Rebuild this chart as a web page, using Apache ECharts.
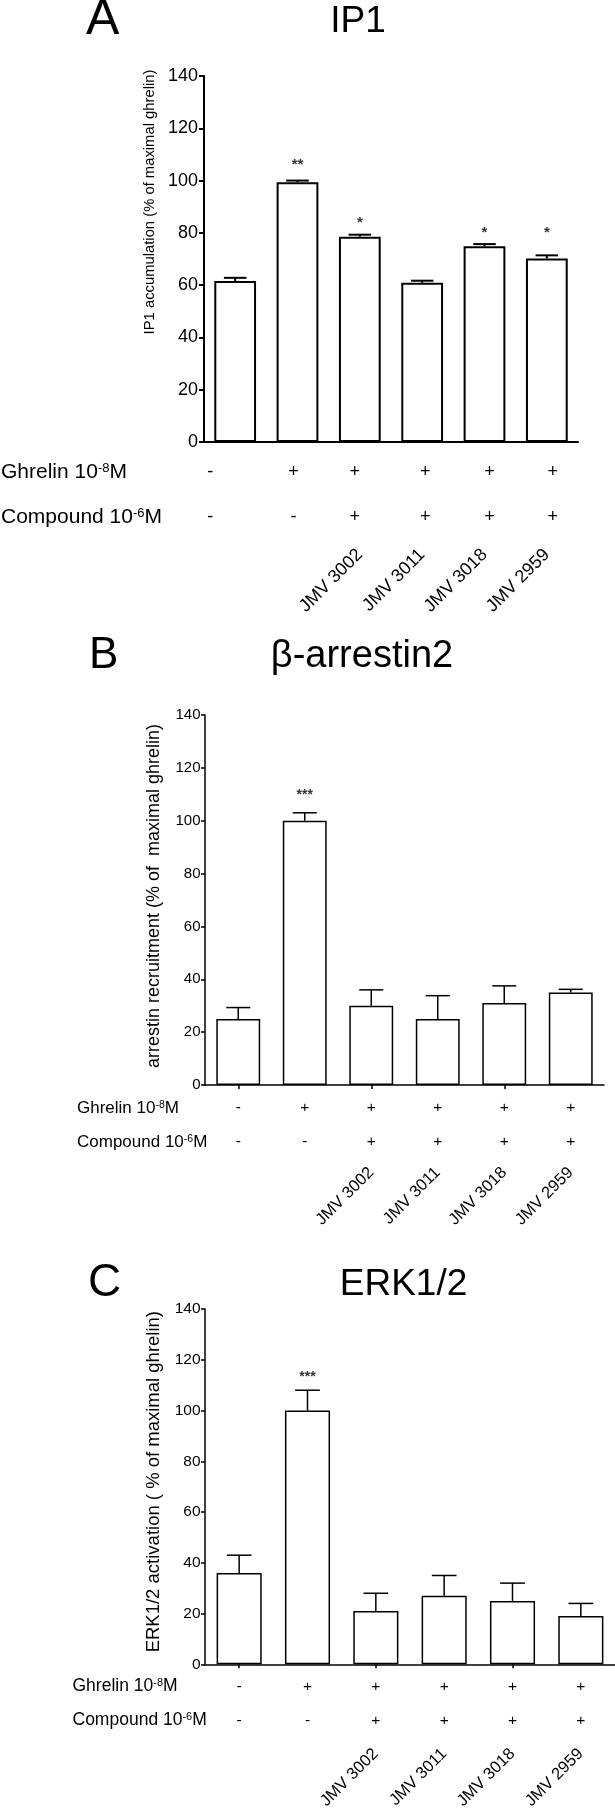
<!DOCTYPE html>
<html><head><meta charset="utf-8">
<script src="https://cdn.jsdelivr.net/npm/echarts@6/dist/echarts.min.js"></script>
<style>html,body{margin:0;padding:0;background:#fff}#c{width:615px;height:1812px}</style>
</head><body><div id="c"></div>
<script>
// ---------- data ----------
const categories = ['Control', 'Ghrelin', 'JMV 3002', 'JMV 3011', 'JMV 3018', 'JMV 2959'];
const ghrelinSigns = ['-', '+', '+', '+', '+', '+'];
const compoundSigns = ['-', '-', '+', '+', '+', '+'];
const compoundLabels = ['', '', 'JMV 3002', 'JMV 3011', 'JMV 3018', 'JMV 2959'];
const yMin = 0, yMax = 140, yInterval = 20;

const ip1Mean = [61.6, 99.4, 78.5, 60.9, 74.9, 70.2];
const ip1Sem = [1.2, 0.6, 0.8, 0.8, 0.8, 1.2];
const ip1Stars = ['', '**', '*', '', '*', '*'];
const ip1StarLevel = [null, 107, 85, null, 81, 81];

const arrMean = [25, 100, 30, 25, 31, 35];
const arrSem = [4.3, 3, 6, 8.8, 6.5, 1.2];
const arrStars = ['', '***', '', '', '', ''];
const arrStarLevel = [null, 111, null, null, null, null];

const erkMean = [36, 100, 21, 27, 25, 19];
const erkSem = [7, 8, 7, 8, 7, 5];
const erkStars = ['', '***', '', '', '', ''];
const erkStarLevel = [null, 114.4, null, null, null, null];

// ---------- layout / style ----------
const F = 'Liberation Sans, Arial, Helvetica, sans-serif';
const panels = [
  { title: 'IP1', letter: 'A', yName: 'IP1 accumulation (% of maximal ghrelin)',
    mean: ip1Mean, sem: ip1Sem, stars: ip1Stars, starLevel: ip1StarLevel,
    grid: { left: 203, top: 76, width: 375, height: 366 },
    lw: 2, barWidth: '67%', xTicks: false, tickLen: 5, axisFont: 18, labelMargin: 6,
    yNameFont: 14.8, yNameGap: 45, yNameShift: 57,
    rows: [30, 75, 110], signFont: 18, rowFont: 21, supFont: 13, rowNameGap: 203,
    jmvFont: 18, signShift: [-25, -4, -5, 3, 5, 6], starFont: 15 },
  { title: '\u03b2-arrestin2', letter: 'B', yName: 'arrestin recruitment (% of  maximal ghrelin)',
    mean: arrMean, sem: arrSem, stars: arrStars, starLevel: arrStarLevel,
    grid: { left: 205, top: 715, width: 399, height: 370 },
    lw: 1.5, barWidth: '66%', xTicks: true, tickLen: 4, axisFont: 15, labelMargin: 4.5,
    yNameFont: 18, yNameGap: 51, yNameShift: 4,
    rows: [23, 57, 85], signFont: 15.5, rowFont: 17, supFont: 10.5, rowNameGap: 128,
    jmvFont: 16.5, signShift: [0, 0, 0, 0, 0, 0], starFont: 14 },
  { title: 'ERK1/2', letter: 'C', yName: 'ERK1/2 activation ( % of maximal ghrelin)',
    mean: erkMean, sem: erkSem, stars: erkStars, starLevel: erkStarLevel,
    grid: { left: 205, top: 1309, width: 410, height: 362 },
    lw: 1.5, barWidth: '66%', xTicks: true, tickLen: 4, axisFont: 15.5, labelMargin: 4.5,
    yNameFont: 18.5, yNameGap: 47, yNameShift: 5,
    rows: [22, 56, 87], signFont: 15.5, rowFont: 17.5, supFont: 11, rowNameGap: 132.5,
    jmvFont: 16.5, signShift: [0, 0, 0, 0, 0, 0], starFont: 14 }
];
const titleLayout = [
  { lx: 86, ly: 20, ls: 50, tx: 358, ty: 22, ts: 37 },
  { lx: 89, ly: 656, ls: 44, tx: 362, ty: 657, ts: 38 },
  { lx: 88, ly: 1283, ls: 46, tx: 403.5, ty: 1285, ts: 37 }
];

const option = { animation: false, textStyle: { fontFamily: F }, grid: [], xAxis: [], yAxis: [], series: [], graphic: [] };

panels.forEach((P, k) => {
  option.grid.push(Object.assign({ containLabel: false }, P.grid));
  const signRich = {};
  P.signShift.forEach((d, i) => {
    signRich['p' + i] = { fontSize: P.signFont, color: '#000', fontFamily: F,
      padding: d < 0 ? [0, -2 * d, 0, 0] : [0, 0, 0, 2 * d] };
  });
  const rowNameRich = {
    n: { fontSize: P.rowFont, color: '#000', fontFamily: F, lineHeight: P.rowFont },
    s: { fontSize: P.supFont, color: '#000', fontFamily: F, verticalAlign: 'top', lineHeight: P.supFont * 0.5 }
  };
  const hidden = { axisLine: { show: false }, axisTick: { show: false }, splitLine: { show: false } };
  // main axis
  option.xAxis.push({ type: 'category', gridIndex: k, data: categories, position: 'bottom',
    axisLine: { show: true, lineStyle: { color: '#000', width: P.lw } },
    axisTick: { show: P.xTicks, alignWithLabel: true, length: P.tickLen, lineStyle: { color: '#000', width: P.lw } },
    axisLabel: { show: false }, splitLine: { show: false } });
  // ghrelin row
  option.xAxis.push(Object.assign({ type: 'category', gridIndex: k, data: categories, position: 'bottom',
    offset: P.rows[0],
    axisLabel: { interval: 0, margin: 0, verticalAlign: 'middle', color: '#000', rich: signRich,
      formatter: (v, i) => '{p' + i + '|' + ghrelinSigns[i] + '}' },
    name: '{n|Ghrelin 10}{s|-8}{n|M}', nameLocation: 'start', nameGap: P.rowNameGap,
    nameTextStyle: { align: 'left', verticalAlign: 'middle', rich: rowNameRich } }, hidden));
  // compound row
  option.xAxis.push(Object.assign({ type: 'category', gridIndex: k, data: categories, position: 'bottom',
    offset: P.rows[1],
    axisLabel: { interval: 0, margin: 0, verticalAlign: 'middle', color: '#000', rich: signRich,
      formatter: (v, i) => '{p' + i + '|' + compoundSigns[i] + '}' },
    name: '{n|Compound 10}{s|-6}{n|M}', nameLocation: 'start', nameGap: P.rowNameGap,
    nameTextStyle: { align: 'left', verticalAlign: 'middle', rich: rowNameRich } }, hidden));
  // compound names row
  option.xAxis.push(Object.assign({ type: 'category', gridIndex: k, data: categories, position: 'bottom',
    offset: P.rows[2],
    axisLabel: { interval: 0, margin: 0, rotate: 45, color: '#000', fontSize: P.jmvFont, fontFamily: F,
      formatter: (v, i) => compoundLabels[i] } }, hidden));

  option.yAxis.push({ type: 'value', gridIndex: k, min: yMin, max: yMax, interval: yInterval,
    axisLine: { show: true, lineStyle: { color: '#000', width: P.lw } },
    axisTick: { show: true, length: P.tickLen, lineStyle: { color: '#000', width: P.lw } },
    axisLabel: { fontSize: P.axisFont, color: '#000', margin: P.labelMargin, fontFamily: F },
    splitLine: { show: false },
    name: P.yName, nameLocation: 'middle', nameGap: P.yNameGap,
    nameTextStyle: { fontSize: P.yNameFont, color: '#000', fontFamily: F, align: 'center', verticalAlign: 'middle',
      padding: [0, 0, 0, 2 * P.yNameShift] } });

  const xi = 4 * k;
  option.series.push({ type: 'bar', xAxisIndex: xi, yAxisIndex: k, data: P.mean, barWidth: P.barWidth,
    silent: true, itemStyle: { color: '#fff', borderColor: '#000', borderWidth: P.lw } });
  const lw = P.lw;
  option.series.push({ type: 'custom', xAxisIndex: xi, yAxisIndex: k, silent: true, z: 3,
    data: P.mean.map((m, i) => [i, m + P.sem[i], m]),
    encode: { x: 0, y: [1, 2] },
    renderItem: (params, api) => {
      const i = api.value(0);
      const pTop = api.coord([i, api.value(1)]);
      const pBase = api.coord([i, api.value(2)]);
      const half = api.size([1, 0])[0] * 0.67 * 0.27;
      const st = { stroke: '#000', lineWidth: lw };
      return { type: 'group', children: [
        { type: 'line', shape: { x1: pBase[0], y1: pBase[1], x2: pTop[0], y2: pTop[1] }, style: st },
        { type: 'line', shape: { x1: pTop[0] - half, y1: pTop[1], x2: pTop[0] + half, y2: pTop[1] }, style: st }
      ] };
    } });
  option.series.push({ type: 'scatter', xAxisIndex: xi, yAxisIndex: k, silent: true, z: 4,
    symbolSize: 1, itemStyle: { color: 'rgba(0,0,0,0)' },
    data: P.starLevel.map((v, i) => [i, v]).filter(d => d[1] != null),
    label: { show: true, position: 'inside', offset: [0, 3], color: '#000', fontSize: P.starFont,
      fontWeight: 'bold', fontFamily: F, formatter: p => P.stars[p.data[0]] } });

  const T = titleLayout[k];
  option.graphic.push({ type: 'text', x: T.lx, y: T.ly, silent: true,
    style: { text: P.letter, fontSize: T.ls, fontFamily: F, fill: '#000', align: 'left', verticalAlign: 'middle',
      textAlign: 'left', textVerticalAlign: 'middle' } });
  option.graphic.push({ type: 'text', x: T.tx, y: T.ty, silent: true,
    style: { text: P.title, fontSize: T.ts, fontFamily: F, fill: '#000', align: 'center', verticalAlign: 'middle',
      textAlign: 'center', textVerticalAlign: 'middle' } });
});

const chart = echarts.init(document.getElementById('c'), null, { renderer: 'canvas' });
chart.setOption(option);
</script></body></html>
